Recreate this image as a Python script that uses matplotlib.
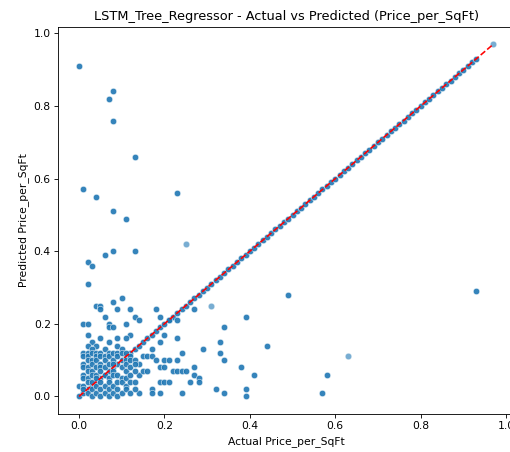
import matplotlib
matplotlib.use("Agg")
import matplotlib.pyplot as plt
import seaborn as sns

# points where actual == predicted
diag_vals = [0.00, 0.01, 0.02, 0.03, 0.04, 0.05, 0.06, 0.07, 0.08, 0.09,
             0.10, 0.11, 0.12, 0.13, 0.14, 0.15, 0.16, 0.17, 0.18, 0.19,
             0.20, 0.21, 0.22, 0.23, 0.24, 0.25, 0.26, 0.27, 0.28, 0.29,
             0.30, 0.31, 0.32, 0.33, 0.34, 0.35, 0.36, 0.37, 0.38, 0.39,
             0.40, 0.41, 0.42, 0.43, 0.44, 0.45, 0.46, 0.47, 0.48, 0.49,
             0.50, 0.51, 0.52, 0.53, 0.54, 0.55, 0.56, 0.57, 0.58, 0.59,
             0.60, 0.61, 0.62, 0.63, 0.64, 0.65, 0.66, 0.67, 0.68, 0.69,
             0.70, 0.71, 0.72, 0.73, 0.74, 0.75, 0.76, 0.77, 0.78, 0.79,
             0.80, 0.81, 0.82, 0.83, 0.84, 0.85, 0.86, 0.87, 0.88, 0.89,
             0.90, 0.91, 0.92, 0.93]

# (actual, predicted) pairs off the diagonal
off_points = [
    (0.00, 0.91), (0.08, 0.84), (0.07, 0.82), (0.08, 0.76), (0.13, 0.66),
    (0.01, 0.57), (0.04, 0.55), (0.23, 0.56), (0.08, 0.51), (0.11, 0.49),
    (0.08, 0.40), (0.13, 0.40), (0.06, 0.39), (0.02, 0.37), (0.03, 0.36),
    (0.02, 0.31), (0.04, 0.25), (0.05, 0.25), (0.05, 0.24), (0.08, 0.26),
    (0.10, 0.27), (0.09, 0.24), (0.12, 0.24), (0.06, 0.22), (0.13, 0.22),
    (0.14, 0.21), (0.07, 0.20), (0.07, 0.19), (0.08, 0.19), (0.01, 0.20),
    (0.02, 0.20), (0.11, 0.20), (0.02, 0.17), (0.12, 0.17), (0.05, 0.16),
    (0.07, 0.15), (0.09, 0.16), (0.11, 0.16), (0.03, 0.15), (0.04, 0.14),
    (0.18, 0.24), (0.19, 0.22), (0.21, 0.21), (0.23, 0.21), (0.27, 0.24),
    (0.34, 0.19), (0.20, 0.17), (0.39, 0.22), (0.49, 0.28), (0.93, 0.29),
    (0.44, 0.14), (0.33, 0.15), (0.33, 0.12), (0.34, 0.10), (0.38, 0.08),
    (0.41, 0.06), (0.58, 0.06), (0.57, 0.01), (0.39, 0.02), (0.39, 0.00),
    (0.34, 0.01), (0.32, 0.02), (0.29, 0.13), (0.24, 0.12), (0.19, 0.15),
    (0.23, 0.16), (0.17, 0.13), (0.15, 0.11), (0.16, 0.11), (0.17, 0.11),
    (0.18, 0.10), (0.19, 0.08), (0.20, 0.10), (0.21, 0.10), (0.23, 0.10),
    (0.22, 0.07), (0.23, 0.07), (0.24, 0.07), (0.25, 0.07), (0.27, 0.08),
    (0.27, 0.06), (0.28, 0.05), (0.28, 0.04), (0.26, 0.04), (0.19, 0.04),
    (0.20, 0.04), (0.21, 0.04), (0.17, 0.02), (0.17, 0.01), (0.19, 0.01),
    (0.24, 0.01), (0.14, 0.01), (0.14, 0.06), (0.15, 0.07), (0.16, 0.07),
    (0.14, 0.09), (0.20, 0.08),
    # dense low-value cluster
    (0.00, 0.03),
    (0.01, 0.12), (0.01, 0.11), (0.01, 0.09), (0.01, 0.08), (0.01, 0.06),
    (0.01, 0.05), (0.01, 0.03), (0.01, 0.02),
    (0.02, 0.14), (0.02, 0.12), (0.02, 0.11), (0.02, 0.10), (0.02, 0.08),
    (0.02, 0.07), (0.02, 0.05), (0.02, 0.04), (0.02, 0.01),
    (0.03, 0.13), (0.03, 0.12), (0.03, 0.10), (0.03, 0.09), (0.03, 0.07),
    (0.03, 0.06), (0.03, 0.04), (0.03, 0.02), (0.03, 0.00),
    (0.04, 0.12), (0.04, 0.11), (0.04, 0.10), (0.04, 0.08), (0.04, 0.06),
    (0.04, 0.05), (0.04, 0.03), (0.04, 0.01),
    (0.05, 0.12), (0.05, 0.11), (0.05, 0.09), (0.05, 0.08), (0.05, 0.07),
    (0.05, 0.04), (0.05, 0.02), (0.05, 0.00),
    (0.06, 0.13), (0.06, 0.11), (0.06, 0.10), (0.06, 0.08), (0.06, 0.06),
    (0.06, 0.03), (0.06, 0.01),
    (0.07, 0.12), (0.07, 0.11), (0.07, 0.09), (0.07, 0.05), (0.07, 0.04),
    (0.07, 0.02), (0.07, 0.00),
    (0.08, 0.12), (0.08, 0.10), (0.08, 0.09), (0.08, 0.07), (0.08, 0.06),
    (0.08, 0.03), (0.08, 0.01),
    (0.09, 0.14), (0.09, 0.12), (0.09, 0.11), (0.09, 0.06), (0.09, 0.04),
    (0.09, 0.02), (0.09, 0.00),
    (0.10, 0.13), (0.10, 0.12), (0.10, 0.08), (0.10, 0.05), (0.10, 0.04),
    (0.10, 0.01),
    (0.11, 0.12), (0.11, 0.10), (0.11, 0.09), (0.11, 0.07), (0.11, 0.05),
    (0.11, 0.03), (0.11, 0.02),
    (0.12, 0.11), (0.12, 0.10), (0.12, 0.08), (0.12, 0.06), (0.12, 0.04),
    (0.12, 0.01),
    (0.13, 0.10), (0.13, 0.09), (0.13, 0.07), (0.13, 0.04), (0.13, 0.02),
]

# rows that appear only once (drawn lighter)
faint_actual = [0.25, 0.31, 0.63, 0.97]
faint_predicted = [0.42, 0.25, 0.11, 0.97]

off_actual = [p[0] for p in off_points]
off_predicted = [p[1] for p in off_points]

actual = diag_vals + off_actual
predicted = diag_vals + off_predicted

fig = plt.figure(figsize=(510 / 77, 452 / 77), dpi=77)
ax = fig.add_axes([58.3 / 510, 38 / 452, (514 - 58.3) / 510, (414 - 26.7) / 452])

sns.scatterplot(x=actual, y=predicted, alpha=0.9, ax=ax)
sns.scatterplot(x=faint_actual, y=faint_predicted, alpha=0.6, color="C0", ax=ax)

lo = min(actual + faint_actual)
hi = max(actual + faint_actual)
ax.plot([lo, hi], [lo, hi], "r--")

ax.set_xlabel("Actual Price_per_SqFt")
ax.set_ylabel("Predicted Price_per_SqFt")
ax.set_title("LSTM_Tree_Regressor - Actual vs Predicted (Price_per_SqFt)")

fig.savefig("out.png", dpi=77)
